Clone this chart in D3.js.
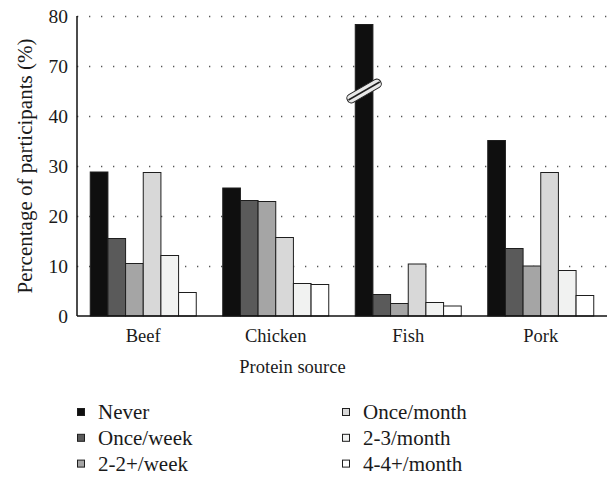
<!DOCTYPE html>
<html>
<head>
<meta charset="utf-8">
<script src="https://cdn.jsdelivr.net/npm/d3@7"></script>
<style>
  body { margin: 0; background: #fff; }
</style>
</head>
<body>
<div id="chart"></div>
<script>
// data
const categories = ["Beef", "Chicken", "Fish", "Pork"];
const seriesNames = ["Never", "Once/week", "2-2+/week", "Once/month", "2-3/month", "4-4+/month"];
const seriesColors = ["#0f0f0f", "#5a5a5a", "#a5a5a5", "#d8d8d8", "#f1f2f1", "#ffffff"];
const values = {
    "Beef":    [28.8, 15.5, 10.5, 28.7, 12.1, 4.7],
    "Chicken": [25.6, 23.1, 22.9, 15.7, 6.5, 6.3],
    "Fish":    [78.3, 4.3, 2.5, 10.4, 2.7, 2.0],
    "Pork":    [35.1, 13.5, 10.0, 28.7, 9.1, 4.1]
};
const yTicks = [0, 10, 20, 30, 40, 70, 80];
const gridTicks = [10, 20, 30, 40, 70, 80];

const fontFamily = "'Liberation Serif', 'DejaVu Serif', 'Times New Roman', serif";

const width = 610, height = 477;
const margin = { top: 16, right: 3, bottom: 161, left: 77 };
const innerW = width - margin.left - margin.right;
const innerH = height - margin.top - margin.bottom;

const svg = d3.select("#chart").append("svg")
    .attr("width", width)
    .attr("height", height)
    .attr("font-family", fontFamily)
    .style("font-family", fontFamily);

const g = svg.append("g")
    .attr("transform", `translate(${margin.left},${margin.top})`);

// broken axis: 0-40 then 70-80, each labelled tick one step apart
const step = innerH / 6;
const y = d3.scaleLinear()
    .domain([0, 40, 70, 80])
    .range([innerH, innerH - 4 * step, innerH - 5 * step, 0]);

const x0 = d3.scaleBand()
    .domain(categories)
    .range([0, innerW])
    .paddingInner(0.2)
    .paddingOuter(0.1);

const x1 = d3.scaleBand()
    .domain(seriesNames)
    .range([0, x0.bandwidth()]);

// dotted grid
g.selectAll(".grid")
    .data(gridTicks)
    .enter().append("line")
    .attr("x1", 0)
    .attr("x2", innerW)
    .attr("y1", d => y(d) + 0.5)
    .attr("y2", d => y(d) + 0.5)
    .attr("stroke", "#555")
    .attr("stroke-width", 1.3)
    .attr("stroke-dasharray", "1.3 10.7");

// bars
const groups = g.selectAll(".cat")
    .data(categories)
    .enter().append("g")
    .attr("transform", d => `translate(${x0(d)},0)`);

groups.selectAll("rect")
    .data(c => values[c].map((v, i) => ({ name: seriesNames[i], v, i })))
    .enter().append("rect")
    .attr("x", d => x1(d.name))
    .attr("y", d => y(d.v))
    .attr("width", x1.bandwidth())
    .attr("height", d => innerH - y(d.v))
    .attr("fill", d => seriesColors[d.i])
    .attr("stroke", "#1e1e1e")
    .attr("stroke-width", 1);

// break symbol on the tall fish bar
const bx = x0("Fish") + x1("Never") + x1.bandwidth() / 2;
const by = y(55);
const brk = g.append("g").attr("transform", `translate(${bx},${by}) rotate(-30)`);
brk.append("rect")
    .attr("x", -19).attr("y", -4.5)
    .attr("width", 38).attr("height", 9)
    .attr("rx", 4)
    .attr("fill", "#e8e8e8")
    .attr("stroke", "#1e1e1e")
    .attr("stroke-width", 1);
brk.append("line")
    .attr("x1", -18).attr("x2", 18)
    .attr("y1", 0).attr("y2", 0)
    .attr("stroke", "#1e1e1e")
    .attr("stroke-width", 1.5);

// axes
g.append("line")
    .attr("x1", 0).attr("x2", innerW)
    .attr("y1", innerH).attr("y2", innerH)
    .attr("stroke", "#111").attr("stroke-width", 1.5);
g.append("line")
    .attr("x1", 0).attr("x2", 0)
    .attr("y1", 0).attr("y2", innerH)
    .attr("stroke", "#111").attr("stroke-width", 1.5);

g.selectAll(".ytick")
    .data(yTicks)
    .enter().append("text")
    .attr("x", -9)
    .attr("y", d => y(d))
    .attr("dy", "0.35em")
    .attr("text-anchor", "end")
    .attr("fill", "#1a1a1a")
    .style("font-size", "19.5px")
    .text(d => d);

g.selectAll(".xtick")
    .data(categories)
    .enter().append("text")
    .attr("x", d => x0(d) + x0.bandwidth() / 2)
    .attr("y", innerH + 25.5)
    .attr("text-anchor", "middle")
    .attr("fill", "#1a1a1a")
    .style("font-size", "18.5px")
    .text(d => d);

// axis titles
g.append("text")
    .attr("x", 215.5)
    .attr("y", innerH + 57)
    .attr("text-anchor", "middle")
    .attr("fill", "#1a1a1a")
    .style("font-size", "18.5px")
    .text("Protein source");

svg.append("text")
    .attr("transform", `translate(32,166) rotate(-90)`)
    .attr("text-anchor", "middle")
    .attr("fill", "#1a1a1a")
    .style("font-size", "21px")
    .text("Percentage of participants (%)");

// legend, two columns of three
const legend = svg.append("g").attr("transform", "translate(77,412)");
const items = legend.selectAll(".item")
    .data(seriesNames)
    .enter().append("g")
    .attr("transform", (d, i) => `translate(${Math.floor(i / 3) * 265},${(i % 3) * 25.8})`);
items.append("rect")
    .attr("x", 0.5).attr("y", -3.5)
    .attr("width", 7).attr("height", 7)
    .attr("fill", (d, i) => seriesColors[i])
    .attr("stroke", "#1e1e1e")
    .attr("stroke-width", 1);
items.append("text")
    .attr("x", 21)
    .attr("y", 0)
    .attr("dy", "0.35em")
    .attr("fill", "#1a1a1a")
    .style("font-size", "21px")
    .text(d => d);
</script>
</body>
</html>
